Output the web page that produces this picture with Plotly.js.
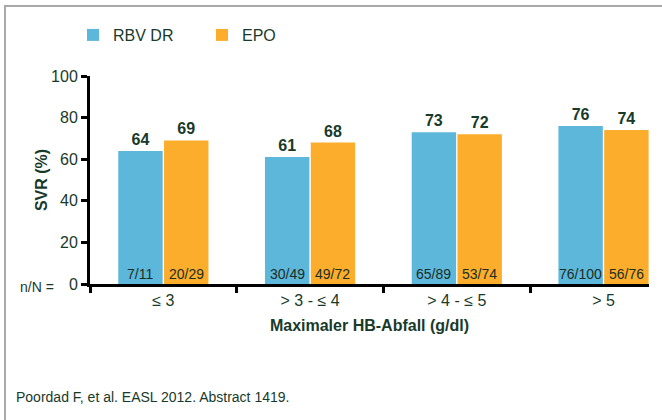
<!DOCTYPE html>
<html>
<head>
<meta charset="utf-8">
<script src="https://cdn.plot.ly/plotly-3.0.1.min.js"></script>
<style>
  html, body { margin: 0; padding: 0; background: #fff; }
  #wrap { position: relative; width: 662px; height: 420px; overflow: hidden; }
  #chart { position: absolute; left: 0; top: 0; width: 662px; height: 420px; }
  #frame { position: absolute; left: 4px; top: 5px; right: -10px; bottom: -10px;
           border-top: 2px solid #a9a9a9; border-left: 2px solid #a9a9a9; pointer-events: none; }
</style>
</head>
<body>
<div id="wrap"><div id="chart"></div><div id="frame"></div></div>
<script>
const categories = ["≤ 3", "> 3 - ≤ 4", "> 4 - ≤ 5", "> 5"];
const seriesNames = ["RBV DR", "EPO"];
const rbvValues = [64, 61, 73, 76];
const epoValues = [69, 68, 72, 74];
const rbvCounts = ["7/11", "30/49", "65/89", "76/100"];
const epoCounts = ["20/29", "49/72", "53/74", "56/76"];
const yTicks = [0, 20, 40, 60, 80, 100];

const FONT = "Arial, 'Liberation Sans', sans-serif";
const TXT = "#183a2a";
const BLUE = "#5db7da";
const ORANGE = "#fbad2b";

const W = 662, H = 420;
const margin = {l: 90, r: 13, t: 76, b: 136};
const xRange = [-0.5, 3.31];
const bargap = 0.376, bargroupgap = 0.03;

const traces = [
  {type: "bar", name: seriesNames[0], x: categories, y: rbvValues,
   marker: {color: BLUE}, text: rbvValues.map(String), textposition: "outside",
   textfont: {family: FONT, size: 16, color: TXT, weight: "bold"}, cliponaxis: false,
   hoverinfo: "skip"},
  {type: "bar", name: seriesNames[1], x: categories, y: epoValues,
   marker: {color: ORANGE}, text: epoValues.map(String), textposition: "outside",
   textfont: {family: FONT, size: 16, color: TXT, weight: "bold"}, cliponaxis: false,
   hoverinfo: "skip"}
];

// bar centre offset in px derived from the axis scale
const plotW = W - margin.l - margin.r;
const catPx = plotW / (xRange[1] - xRange[0]);
const barOff = catPx * (1 - bargap) / 4;

const annotations = [];
[rbvCounts, epoCounts].forEach(function (counts, s) {
  counts.forEach(function (c, i) {
    annotations.push({x: categories[i], y: 0, xref: "x", yref: "y", text: c,
      showarrow: false, xanchor: "center", yanchor: "bottom", yshift: 0,
      xshift: (s === 0 ? -1 : 1) * barOff,
      font: {family: FONT, size: 14, color: "#1b2e25"}});
  });
});
annotations.push({xref: "paper", yref: "paper", x: (18 - margin.l) / plotW, y: 0,
  xanchor: "left", yanchor: "middle", yshift: -3, text: "n/N =", showarrow: false,
  font: {family: FONT, size: 14, color: TXT}});
annotations.push({xref: "paper", yref: "paper", x: (14 - margin.l) / plotW, y: (H - margin.b - 397) / (H - margin.t - margin.b),
  xanchor: "left", yanchor: "middle", text: "Poordad F, et al. EASL 2012. Abstract 1419.", showarrow: false,
  font: {family: FONT, size: 14, color: TXT}});

const layout = {
  width: W, height: H, margin: margin,
  paper_bgcolor: "#fff", plot_bgcolor: "#fff",
  barmode: "group", bargap: bargap, bargroupgap: bargroupgap,
  font: {family: FONT, color: TXT, size: 16},
  showlegend: true,
  legend: {orientation: "h", x: (73 - margin.l) / plotW, xanchor: "left",
    y: 1.197, yanchor: "middle", font: {family: FONT, size: 16, color: TXT},
    entrywidth: 84, itemclick: false, traceorder: "normal"},
  xaxis: {type: "category", range: xRange, showline: true, linewidth: 3, linecolor: "#000",
    ticks: "outside", tickson: "boundaries", ticklen: 6, tickwidth: 3, tickcolor: "#000",
    showgrid: false, zeroline: false, fixedrange: true,
    tickfont: {family: FONT, size: 16, color: TXT},
    title: {text: "Maximaler HB-Abfall (g/dl)", standoff: 12,
      font: {family: FONT, size: 16, color: TXT, weight: "bold"}}},
  yaxis: {range: [0, 100], tickvals: yTicks, showline: true, linewidth: 3, linecolor: "#000",
    ticks: "outside", ticklen: 6, tickwidth: 3, tickcolor: "#000",
    showgrid: false, zeroline: false, fixedrange: true,
    tickfont: {family: FONT, size: 16, color: TXT},
    title: {text: "SVR (%)", standoff: 0,
      font: {family: FONT, size: 16, color: TXT, weight: "bold"}}},
  annotations: annotations
};

Plotly.newPlot("chart", traces, layout, {displayModeBar: false, staticPlot: true});
</script>
</body>
</html>
